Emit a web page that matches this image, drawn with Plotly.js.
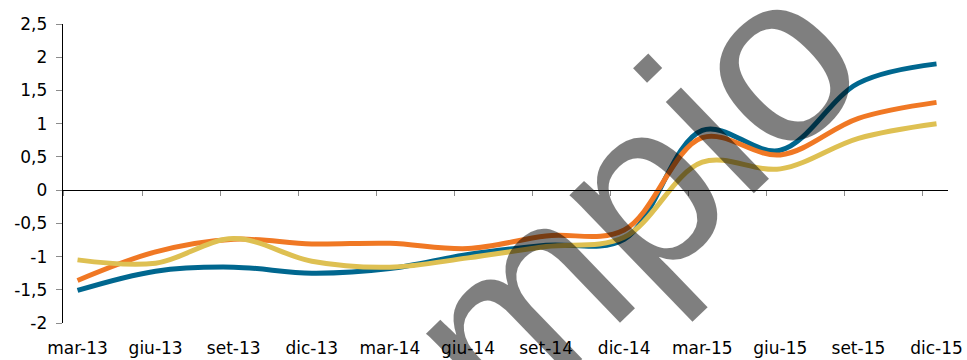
<!DOCTYPE html>
<html>
<head>
<meta charset="utf-8">
<script src="https://cdn.plot.ly/plotly-3.0.1.min.js"></script>
<style>
html,body{margin:0;padding:0;background:#fff;}
#chart{width:967px;height:360px;}
</style>
</head>
<body>
<div id="chart"></div>
<script>
var categories = ["mar-13","giu-13","set-13","dic-13","mar-14","giu-14","set-14","dic-14","mar-15","giu-15","set-15","dic-15"];
var seriesBlue   = [-1.51,-1.22,-1.16,-1.25,-1.18,-0.97,-0.83,-0.74,0.90,0.60,1.61,1.90];
var seriesOrange = [-1.36,-0.93,-0.74,-0.81,-0.80,-0.88,-0.69,-0.60,0.79,0.53,1.08,1.32];
var seriesYellow = [-1.05,-1.10,-0.73,-1.07,-1.16,-1.02,-0.85,-0.71,0.42,0.32,0.78,1.00];
var yTickVals = [-2,-1.5,-1,-0.5,0,0.5,1,1.5,2,2.5];
var yTickText = ["-2","-1,5","-1","-0,5","0","0,5","1","1,5","2","2,5"];
var watermark = "Esempio";

function line(y, color){
  return {x: categories, y: y, type:'scatter', mode:'lines',
    line:{color:color, width:5, shape:'spline', smoothing:1},
    hoverinfo:'skip', showlegend:false};
}
var traces = [
  line(seriesBlue, 'rgb(0,103,143)'),
  line(seriesOrange, 'rgb(240,120,36)'),
  line(seriesYellow, 'rgb(222,192,82)')
];
var font = {family:'"DejaVu Sans", sans-serif', size:17, color:'#000'};
var layout = {
  width:967, height:360,
  margin:{l:63, r:19, t:24, b:37},
  paper_bgcolor:'#fff', plot_bgcolor:'#fff',
  font: font,
  separators: ', ',
  showlegend:false,
  xaxis:{type:'category', range:[-0.186, 11.147], showgrid:false, zeroline:false,
    showline:false, ticks:'outside', ticklen:10, tickcolor:'rgba(0,0,0,0)',
    tickfont: font, fixedrange:true},
  xaxis2:{type:'linear', overlaying:'x', anchor:'free', position:(0-(-2))/4.5, side:'bottom',
    range:[-0.186, 11.147], tick0:0.826, dtick:1, ticks:'outside', ticklen:5,
    tickcolor:'#8c8c8c', showticklabels:false, showgrid:false, zeroline:false,
    showline:true, linecolor:'#000', linewidth:1.3},
  yaxis:{range:[-2, 2.5], tickvals:yTickVals, ticktext:yTickText, showgrid:false,
    zeroline:false, showline:true, linecolor:'#000', linewidth:1.3,
    ticks:'outside', ticklen:6, tickcolor:'#8c8c8c', ticklabelstandoff:5,
    tickfont: font, fixedrange:true},
  annotations:[{text: watermark, xref:'paper', yref:'paper', x:0.475, y:-0.053,
    xanchor:'center', yanchor:'middle',
    showarrow:false, textangle:-44,
    font:{family:'"Liberation Sans", Arial, sans-serif', size:240, color:'rgba(0,0,0,0.5)'}}]
};
traces.push({x:[0], y:[0], xaxis:'x2', type:'scatter', mode:'markers',
  marker:{opacity:0}, hoverinfo:'skip', showlegend:false});
Plotly.newPlot('chart', traces, layout, {staticPlot:true});
</script>
</body>
</html>
